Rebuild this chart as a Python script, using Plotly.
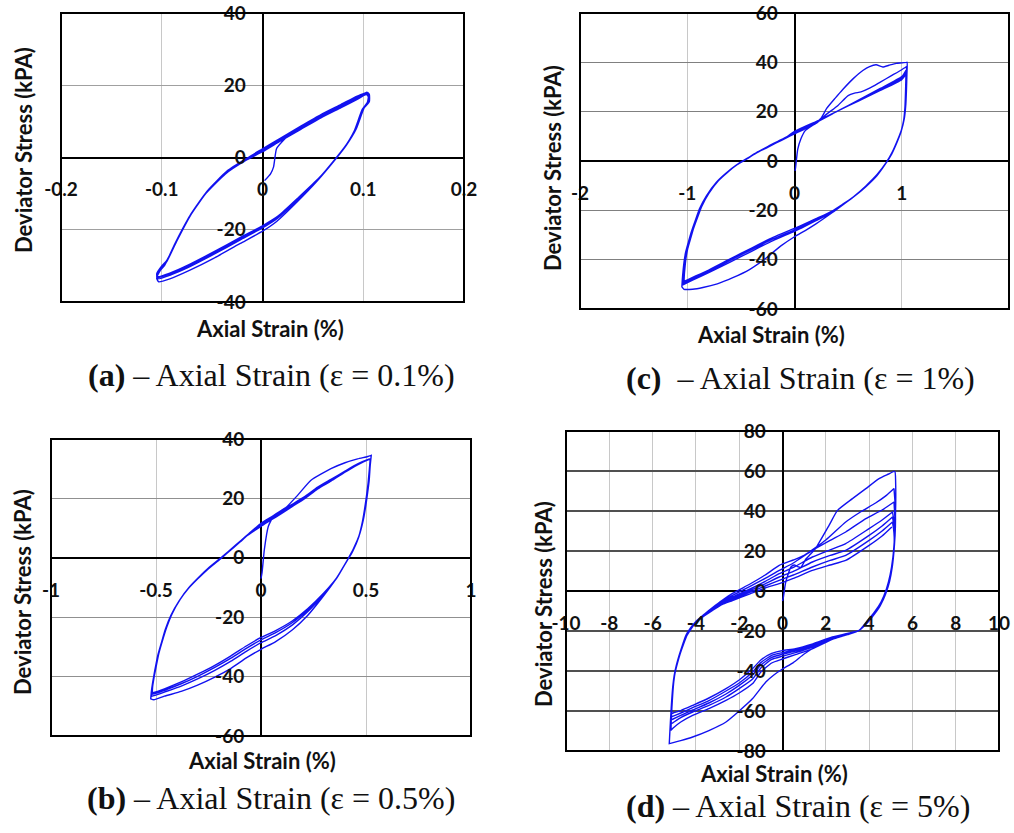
import plotly.graph_objects as go

# ---------------- DATA ----------------
# Each panel: list of branches (initial loading, then unloading / reloading), strain in %, stress in kPa

A_STRAIN = [
    [0.002, 0.008, 0.011, 0.014, 0.024, 0.031, 0.038, 0.058, 0.078, 0.094, 0.103, 0.105],
    [0.104, 0.099, 0.091, 0.081, 0.071, 0.054, 0.034, 0.014, 0.0, -0.022, -0.049, -0.072, -0.092, -0.103],
    [-0.105, -0.102, -0.097, -0.087, -0.073, -0.057, -0.037, -0.017, 0.0, 0.018, 0.038, 0.058, 0.078, 0.094, 0.103, 0.106],
    [0.105, 0.1, 0.092, 0.082, 0.072, 0.055, 0.035, 0.015, 0.0, -0.022, -0.049, -0.072, -0.092, -0.104],
    [-0.105, -0.101, -0.096, -0.086, -0.072, -0.056, -0.036, -0.016, 0.0, 0.018, 0.038, 0.058, 0.078, 0.094, 0.103, 0.106],
    [0.106, 0.101, 0.093, 0.083, 0.073, 0.056, 0.036, 0.016, 0.0, -0.022, -0.049, -0.072, -0.092, -0.104],
    [-0.105, -0.1, -0.095, -0.085, -0.071, -0.055, -0.035, -0.015, 0.0, 0.018, 0.038, 0.058, 0.078, 0.094, 0.104, 0.106],
    [0.106, 0.101, 0.093, 0.083, 0.073, 0.056, 0.036, 0.016, 0.0, -0.022, -0.049, -0.072, -0.092, -0.104],
    [-0.105, -0.1, -0.095, -0.085, -0.071, -0.055, -0.035, -0.015, 0.0, 0.018, 0.038, 0.058, 0.078, 0.094, 0.104],
]
A_STRESS = [
    [-6.4, -4.5, -2.6, 2.5, 5.7, 7.5, 8.2, 11.2, 13.9, 16.2, 17.4, 16.8],
    [15.2, 13.3, 7.3, 2.6, -1.0, -6.6, -12.4, -17.7, -20.4, -23.8, -28.0, -31.2, -33.6, -34.4],
    [-33.5, -31.5, -29.8, -23.9, -16.6, -10.2, -4.6, -0.9, 1.6, 4.6, 7.8, 11.0, 13.8, 16.1, 17.5, 17.0],
    [15.0, 13.5, 7.6, 3.0, -0.6, -6.2, -11.7, -16.8, -19.5, -22.8, -26.9, -30.2, -32.6, -33.6],
    [-32.8, -30.8, -29.2, -23.4, -16.1, -9.8, -4.2, -0.5, 2.0, 5.0, 8.2, 11.4, 14.2, 16.5, 17.8, 17.2],
    [15.4, 13.8, 7.9, 3.3, -0.3, -5.9, -11.3, -16.4, -19.1, -22.4, -26.5, -29.8, -32.2, -33.2],
    [-32.4, -30.3, -28.8, -23.1, -15.8, -9.5, -3.9, -0.3, 2.2, 5.2, 8.5, 11.7, 14.5, 16.8, 18.0, 17.5],
    [15.6, 14.0, 8.1, 3.5, -0.1, -5.7, -11.0, -16.1, -18.9, -22.1, -26.2, -29.5, -32.0, -33.0],
    [-32.2, -30.0, -28.5, -22.9, -15.6, -9.3, -3.7, -0.1, 2.4, 5.4, 8.7, 11.9, 14.7, 17.0, 18.1],
]

B_STRAIN = [
    [0.0, 0.005, 0.016, 0.035, 0.063, 0.12, 0.175, 0.238, 0.333, 0.4, 0.46, 0.508, 0.525],
    [0.525, 0.52, 0.515, 0.508, 0.5, 0.488, 0.47, 0.44, 0.413, 0.36, 0.3, 0.222, 0.15, 0.07, 0.0, -0.07, -0.143, -0.22, -0.302, -0.38, -0.46, -0.51, -0.525],
    [-0.525, -0.522, -0.516, -0.506, -0.492, -0.476, -0.455, -0.429, -0.39, -0.349, -0.3, -0.254, -0.2, -0.159, -0.1, -0.063, 0.0, 0.05, 0.095, 0.15, 0.206, 0.27, 0.333, 0.4, 0.46, 0.51, 0.522],
    [0.522, 0.518, 0.512, 0.505, 0.497, 0.485, 0.468, 0.438, 0.411, 0.36, 0.3, 0.222, 0.15, 0.07, 0.0, -0.07, -0.143, -0.22, -0.302, -0.38, -0.46, -0.51, -0.522],
    [-0.522, -0.52, -0.514, -0.504, -0.49, -0.474, -0.453, -0.427, -0.388, -0.347, -0.298, -0.252, -0.198, -0.157, -0.098, -0.061, 0.0, 0.05, 0.095, 0.15, 0.206, 0.27, 0.333, 0.4, 0.46, 0.51, 0.52],
    [0.52, 0.516, 0.51, 0.503, 0.495, 0.483, 0.466, 0.436, 0.409, 0.36, 0.3, 0.222, 0.15, 0.07, 0.0, -0.07, -0.143, -0.22, -0.302, -0.38, -0.46, -0.505, -0.52],
    [-0.52, -0.518, -0.512, -0.502, -0.488, -0.472, -0.451, -0.425, -0.386, -0.345, -0.296, -0.25, -0.196, -0.155, -0.096, -0.059, 0.0, 0.05, 0.095, 0.15, 0.206, 0.27, 0.333, 0.4, 0.46, 0.51, 0.52],
    [0.52, 0.516, 0.51, 0.503, 0.495, 0.483, 0.466, 0.436, 0.409, 0.36, 0.3, 0.222, 0.15, 0.07, 0.0, -0.07, -0.143, -0.22, -0.302, -0.38, -0.46, -0.505, -0.518],
    [-0.518, -0.516, -0.51, -0.5, -0.486, -0.47, -0.449, -0.423, -0.384, -0.343, -0.294, -0.248, -0.194, -0.153, -0.094, -0.057, 0.0, 0.05, 0.095, 0.15, 0.206, 0.27, 0.333, 0.4, 0.46, 0.51, 0.52],
]
B_STRESS = [
    [-7.0, -5.0, 2.8, 10.6, 14.4, 17.0, 21.1, 26.1, 30.0, 32.0, 33.3, 34.1, 34.5],
    [34.5, 31.0, 26.0, 22.0, 18.0, 13.0, 8.0, 3.0, -0.5, -6.8, -12.6, -19.4, -24.2, -28.2, -30.8, -33.7, -37.2, -40.2, -42.9, -45.0, -46.6, -47.8, -47.5],
    [-47.5, -45.0, -42.0, -38.0, -33.0, -29.0, -24.0, -19.4, -14.5, -10.6, -7.0, -3.9, -0.8, 1.7, 5.3, 7.6, 10.6, 12.8, 14.8, 17.3, 19.8, 23.2, 25.8, 28.8, 31.3, 33.1, 33.4],
    [33.4, 30.0, 25.5, 21.5, 17.5, 12.5, 7.6, 2.6, -0.8, -6.8, -12.2, -18.2, -22.6, -26.2, -28.6, -31.5, -34.8, -37.9, -40.8, -43.2, -45.2, -46.4, -46.6],
    [-46.6, -44.3, -41.5, -37.6, -32.7, -28.7, -23.8, -19.2, -14.3, -10.4, -6.8, -3.7, -0.6, 1.9, 5.5, 7.8, 11.0, 13.2, 15.2, 17.6, 20.1, 23.4, 26.0, 28.9, 31.3, 33.0, 33.2],
    [33.2, 29.8, 25.2, 21.2, 17.2, 12.2, 7.3, 2.3, -1.0, -6.9, -12.0, -17.6, -21.8, -25.2, -27.6, -30.5, -33.8, -36.9, -39.9, -42.4, -44.6, -45.7, -46.0],
    [-46.0, -43.8, -41.0, -37.2, -32.4, -28.4, -23.6, -19.0, -14.1, -10.2, -6.6, -3.5, -0.4, 2.1, 5.7, 8.0, 11.3, 13.5, 15.5, 17.9, 20.3, 23.6, 26.2, 29.0, 31.4, 33.0, 33.2],
    [33.2, 29.7, 25.0, 21.0, 17.0, 12.0, 7.1, 2.1, -1.1, -6.8, -11.8, -17.2, -21.2, -24.5, -26.8, -29.7, -33.0, -36.2, -39.2, -41.8, -44.1, -45.2, -45.5],
    [-45.5, -43.4, -40.6, -36.9, -32.1, -28.1, -23.4, -18.8, -13.9, -10.0, -6.4, -3.3, -0.2, 2.3, 5.9, 8.2, 11.6, 13.8, 15.8, 18.1, 20.5, 23.8, 26.4, 29.2, 31.6, 33.1, 33.3],
]

C_STRAIN = [
    [0.005, 0.01, 0.03, 0.06, 0.1, 0.18, 0.25, 0.3, 0.38, 0.45, 0.55, 0.637, 0.7, 0.761, 0.823, 0.88, 0.947, 1.0, 1.045],
    [1.05, 1.048, 1.044, 1.038, 1.025, 1.0, 0.963, 0.91, 0.854, 0.77, 0.668, 0.55, 0.45, 0.35, 0.2, 0.1, 0.0, -0.13, -0.264, -0.42, -0.575, -0.72, -0.854, -0.95, -1.03, -1.05],
    [-1.05, -1.046, -1.04, -1.03, -1.015, -0.99, -0.96, -0.92, -0.885, -0.82, -0.73, -0.64, -0.543, -0.45, -0.357, -0.25, -0.171, -0.08, 0.0, 0.1, 0.2, 0.3, 0.4, 0.5, 0.56, 0.62, 0.7, 0.8, 0.9, 1.0, 1.045],
    [1.045, 1.043, 1.04, 1.035, 1.022, 0.998, 0.96, 0.908, 0.852, 0.77, 0.668, 0.55, 0.45, 0.35, 0.2, 0.1, 0.0, -0.2, -0.4, -0.6, -0.8, -0.95, -1.04],
    [-1.04, -1.036, -1.03, -1.02, -1.005, -0.98, -0.95, -0.91, -0.875, -0.81, -0.72, -0.63, -0.535, -0.44, -0.35, -0.245, -0.165, -0.075, 0.0, 0.2, 0.4, 0.6, 0.8, 1.0, 1.04],
    [1.04, 1.038, 1.035, 1.03, 1.018, 0.995, 0.958, 0.906, 0.85, 0.77, 0.668, 0.55, 0.45, 0.35, 0.2, 0.1, 0.0, -0.2, -0.4, -0.6, -0.8, -0.95, -1.035],
    [-1.035, -1.032, -1.026, -1.016, -1.0, -0.975, -0.945, -0.905, -0.87, -0.805, -0.715, -0.625, -0.53, -0.435, -0.345, -0.24, -0.16, -0.07, 0.0, 0.2, 0.4, 0.6, 0.8, 1.0, 1.04],
    [1.04, 1.038, 1.035, 1.03, 1.018, 0.995, 0.958, 0.906, 0.85, 0.77, 0.668, 0.55, 0.45, 0.35, 0.2, 0.1, 0.0, -0.2, -0.4, -0.6, -0.8, -0.95, -1.03],
    [-1.03, -1.027, -1.021, -1.011, -0.995, -0.97, -0.94, -0.9, -0.865, -0.8, -0.71, -0.62, -0.525, -0.43, -0.34, -0.235, -0.155, -0.065, 0.0, 0.2, 0.4, 0.6, 0.8, 1.0, 1.04],
]
C_STRESS = [
    [-4.0, -2.7, 4.7, 9.0, 12.3, 14.8, 17.5, 21.3, 25.5, 29.0, 33.5, 36.7, 38.3, 39.0, 38.1, 38.8, 39.6, 39.8, 40.0],
    [40.0, 35.0, 29.0, 23.0, 17.5, 13.0, 8.7, 3.5, -0.7, -5.5, -10.0, -14.5, -17.8, -21.0, -25.5, -28.2, -30.7, -34.5, -39.3, -44.0, -47.3, -49.8, -51.3, -52.0, -52.0, -51.0],
    [-51.0, -48.0, -45.0, -41.0, -37.0, -33.0, -28.5, -23.5, -19.3, -14.0, -8.7, -5.0, -1.7, 0.8, 3.2, 5.5, 7.3, 9.3, 11.0, 13.0, 15.2, 19.0, 22.3, 26.5, 27.5, 28.0, 29.5, 32.0, 34.5, 37.0, 38.3],
    [38.3, 33.5, 28.5, 22.5, 17.0, 12.6, 8.3, 3.2, -0.9, -5.7, -10.2, -14.6, -17.8, -20.8, -24.2, -26.4, -28.5, -32.3, -36.6, -41.0, -45.3, -48.3, -50.2],
    [-50.2, -47.2, -44.2, -40.2, -36.2, -32.2, -27.8, -22.9, -18.8, -13.6, -8.4, -4.8, -1.5, 1.0, 3.4, 5.8, 7.6, 9.6, 11.4, 15.6, 20.2, 24.8, 29.4, 34.2, 36.8],
    [36.8, 32.5, 27.8, 22.0, 16.6, 12.3, 8.0, 3.0, -1.0, -5.8, -10.3, -14.6, -17.7, -20.6, -23.8, -25.9, -27.9, -31.6, -35.9, -40.3, -44.7, -47.7, -49.5],
    [-49.5, -46.6, -43.6, -39.7, -35.8, -31.9, -27.5, -22.6, -18.6, -13.4, -8.2, -4.6, -1.3, 1.2, 3.6, 6.0, 7.8, 9.8, 11.7, 15.8, 20.2, 24.6, 29.0, 33.6, 36.0],
    [36.0, 31.8, 27.3, 21.6, 16.3, 12.0, 7.8, 2.8, -1.1, -5.9, -10.3, -14.5, -17.5, -20.3, -23.4, -25.4, -27.3, -31.0, -35.3, -39.7, -44.2, -47.2, -48.8],
    [-48.8, -46.0, -43.0, -39.2, -35.4, -31.6, -27.2, -22.4, -18.4, -13.2, -8.0, -4.4, -1.1, 1.4, 3.8, 6.2, 8.0, 10.0, 12.0, 16.0, 20.2, 24.4, 28.6, 33.0, 35.2],
]

D_STRAIN = [
    [0.0, 0.03, 0.15, 0.39, 0.55, 0.7, 0.85, 0.95, 1.08, 1.3, 1.54, 2.15, 2.54, 3.23, 3.85, 4.46, 4.9, 5.15],
    [5.2, 5.23, 5.23, 5.21, 5.17, 5.1, 4.97, 4.8, 4.55, 4.25, 3.95, 3.54, 3.0, 2.3, 1.6, 1.0, 0.5, 0.0, -0.4, -0.77, -1.38, -2.0, -2.61, -3.4, -4.15, -4.7, -5.05, -5.23],
    [-5.23, -5.2, -5.16, -5.12, -5.07, -5.0, -4.9, -4.77, -4.62, -4.46, -4.25, -4.0, -3.6, -3.23, -2.8, -2.31, -1.5, -0.8, -0.15, 0.5, 1.0, 2.0, 2.92, 3.6, 4.3, 4.8, 5.15],
    [5.15, 5.2, 5.22, 5.2, 5.15, 5.07, 4.95, 4.78, 4.55, 4.25, 3.95, 3.54, 3.0, 2.3, 1.4, 0.6, 0.0, -0.5, -1.0, -1.38, -2.0, -2.61, -3.4, -4.15, -4.7, -5.05, -5.15],
    [-5.15, -5.14, -5.12, -5.09, -5.05, -4.98, -4.88, -4.76, -4.61, -4.45, -4.25, -4.0, -3.6, -3.23, -2.8, -2.31, -1.5, -0.8, -0.15, 0.5, 1.38, 2.2, 2.92, 3.85, 4.6, 5.15],
    [5.15, 5.18, 5.2, 5.18, 5.13, 5.05, 4.93, 4.77, 4.54, 4.25, 3.95, 3.54, 3.0, 2.3, 1.4, 0.6, 0.0, -0.5, -1.0, -1.38, -2.0, -2.61, -3.4, -4.15, -4.7, -5.05, -5.15],
    [-5.15, -5.14, -5.12, -5.09, -5.05, -4.98, -4.88, -4.76, -4.61, -4.45, -4.25, -4.0, -3.6, -3.23, -2.8, -2.31, -1.5, -0.8, -0.15, 0.5, 1.38, 2.2, 2.92, 4.0, 4.6, 5.08],
    [5.08, 5.15, 5.18, 5.17, 5.12, 5.04, 4.92, 4.76, 4.53, 4.25, 3.95, 3.54, 3.0, 2.3, 1.4, 0.6, 0.0, -0.5, -1.0, -1.38, -2.0, -2.61, -3.4, -4.15, -4.7, -5.05, -5.14],
    [-5.14, -5.13, -5.11, -5.08, -5.04, -4.97, -4.87, -4.75, -4.6, -4.44, -4.24, -4.0, -3.6, -3.23, -2.8, -2.31, -1.5, -0.8, -0.15, 0.5, 1.38, 2.2, 2.92, 4.0, 4.6, 5.08],
    [5.08, 5.14, 5.17, 5.16, 5.11, 5.03, 4.91, 4.75, 4.52, 4.24, 3.94, 3.54, 3.0, 2.3, 1.4, 0.6, 0.0, -0.5, -1.0, -1.38, -2.0, -2.61, -3.4, -4.15, -4.7, -5.05, -5.13],
    [-5.13, -5.12, -5.1, -5.07, -5.03, -4.96, -4.86, -4.74, -4.59, -4.43, -4.23, -4.0, -3.6, -3.23, -2.8, -2.31, -1.5, -0.8, -0.15, 0.5, 1.38, 2.2, 2.92, 4.0, 4.6, 5.08],
    [5.08, 5.13, 5.16, 5.15, 5.1, 5.02, 4.9, 4.74, 4.51, 4.23, 3.93, 3.54, 3.0, 2.3, 1.4, 0.6, 0.0, -0.5, -1.0, -1.38, -2.0, -2.61, -3.4, -4.15, -4.7, -5.05, -5.12],
    [-5.12, -5.11, -5.09, -5.06, -5.02, -4.95, -4.85, -4.73, -4.58, -4.42, -4.22, -4.0, -3.6, -3.23, -2.8, -2.31, -1.5, -0.8, -0.15, 0.5, 1.38, 2.2, 2.92, 4.0, 4.6, 5.05],
]
D_STRESS = [
    [-5.0, -3.8, 4.5, 12.0, 13.0, 12.2, 11.8, 13.5, 16.0, 18.5, 21.5, 32.8, 40.3, 46.2, 51.2, 56.2, 58.5, 59.8],
    [59.5, 52.0, 44.0, 35.0, 26.0, 17.0, 8.0, 1.0, -5.5, -10.5, -14.5, -19.7, -21.8, -24.2, -27.5, -31.5, -35.8, -39.0, -42.0, -45.5, -53.8, -60.0, -65.5, -69.8, -73.0, -74.8, -75.8, -76.3],
    [-76.3, -70.0, -62.0, -55.0, -48.0, -42.0, -37.0, -32.0, -27.0, -22.2, -18.5, -15.2, -11.5, -8.3, -4.8, -1.2, 3.5, 8.0, 12.8, 15.5, 17.8, 25.5, 34.5, 39.5, 44.0, 47.8, 51.2],
    [51.2, 44.0, 36.0, 28.0, 20.0, 12.0, 5.0, -1.0, -6.5, -11.0, -15.0, -19.7, -21.8, -24.2, -28.8, -31.8, -34.0, -36.0, -40.5, -46.3, -51.0, -54.7, -58.8, -62.2, -65.5, -68.5, -69.7],
    [-69.7, -65.0, -60.0, -54.0, -48.0, -42.0, -37.0, -32.0, -27.0, -22.3, -18.6, -15.3, -11.6, -8.5, -5.2, -2.2, 2.3, 6.3, 10.3, 14.0, 20.3, 25.3, 29.5, 36.2, 40.5, 44.5],
    [44.5, 39.0, 33.0, 26.0, 19.0, 11.5, 4.6, -1.3, -6.8, -11.2, -15.2, -19.7, -21.6, -23.8, -28.0, -30.8, -32.6, -34.2, -38.5, -44.0, -48.8, -53.0, -57.2, -60.5, -63.3, -65.8, -66.5],
    [-66.5, -62.0, -57.5, -52.0, -46.5, -41.0, -36.5, -31.8, -26.9, -22.3, -18.7, -15.4, -11.8, -8.8, -5.6, -3.0, 1.0, 4.8, 8.7, 11.8, 17.0, 20.6, 23.7, 31.2, 35.5, 39.5],
    [39.5, 35.0, 30.0, 24.0, 17.5, 10.5, 4.0, -1.6, -7.0, -11.4, -15.4, -19.7, -21.5, -23.5, -27.4, -30.0, -31.6, -33.2, -37.0, -42.0, -47.2, -51.5, -56.0, -59.5, -62.2, -64.0, -64.5],
    [-64.5, -60.5, -56.5, -51.3, -46.0, -40.7, -36.3, -31.7, -26.9, -22.3, -18.7, -15.5, -12.0, -9.1, -6.0, -3.6, 0.2, 3.6, 7.0, 9.8, 14.5, 17.8, 20.3, 27.8, 32.5, 37.0],
    [37.0, 33.0, 28.5, 23.0, 17.0, 10.0, 3.6, -1.8, -7.2, -11.6, -15.6, -19.7, -21.3, -23.2, -26.9, -29.4, -30.8, -32.2, -35.8, -40.5, -46.0, -50.0, -54.8, -58.3, -61.0, -62.6, -63.0],
    [-63.0, -59.5, -55.7, -50.6, -45.6, -40.4, -36.1, -31.6, -26.9, -22.3, -18.8, -15.6, -12.2, -9.4, -6.4, -4.2, -0.6, 2.5, 5.3, 8.0, 12.0, 15.3, 17.8, 25.3, 30.0, 34.5],
    [34.5, 31.0, 27.0, 22.0, 16.5, 9.6, 3.2, -2.0, -7.4, -11.8, -15.8, -19.7, -21.2, -23.0, -26.4, -28.8, -29.8, -31.2, -34.5, -38.8, -44.5, -48.8, -53.5, -57.2, -59.8, -61.0, -61.3],
    [-61.3, -58.5, -55.0, -50.0, -45.2, -40.2, -36.0, -31.5, -26.9, -22.4, -18.9, -15.7, -12.4, -9.7, -6.8, -4.8, -1.4, 1.5, 3.7, 6.3, 10.3, 13.0, 15.3, 22.8, 27.5, 32.0],
]

# axis ranges and ticks
A_X_RANGE, A_Y_RANGE = [-0.2, 0.2], [-40, 40]
A_X_TICKS, A_X_LABELS = [-0.2, -0.1, 0, 0.1, 0.2], ["-0.2", "-0.1", "0", "0.1", "0.2"]
A_Y_TICKS, A_Y_LABELS = [-40, -20, 0, 20, 40], ["-40", "-20", "0", "20", "40"]

B_X_RANGE, B_Y_RANGE = [-1, 1], [-60, 40]
B_X_TICKS, B_X_LABELS = [-1, -0.5, 0, 0.5, 1], ["-1", "-0.5", "0", "0.5", "1"]
B_Y_TICKS, B_Y_LABELS = [-60, -40, -20, 0, 20, 40], ["-60", "-40", "-20", "0", "20", "40"]

C_X_RANGE, C_Y_RANGE = [-2, 2], [-60, 60]
C_X_TICKS, C_X_LABELS = [-2, -1, 0, 1, 2], ["-2", "-1", "0", "1", "2"]
C_Y_TICKS, C_Y_LABELS = [-60, -40, -20, 0, 20, 40, 60], ["-60", "-40", "-20", "0", "20", "40", "60"]

D_X_RANGE, D_Y_RANGE = [-10, 10], [-80, 80]
D_X_TICKS = [-10, -8, -6, -4, -2, 0, 2, 4, 6, 8, 10]
D_X_LABELS = ["-10", "-8", "-6", "-4", "-2", "0", "2", "4", "6", "8", "10"]
D_Y_TICKS = [-80, -60, -40, -20, 0, 20, 40, 60, 80]
D_Y_LABELS = ["-80", "-60", "-40", "-20", "0", "20", "40", "60", "80"]

X_TITLE = "Axial Strain (%)"
Y_TITLE = "Deviator Stress (kPA)"
CAPTIONS = {
    "a": "<b>(a)</b> \u2013 Axial Strain (\u03b5 = 0.1%)",
    "b": "<b>(b)</b> \u2013 Axial Strain (\u03b5 = 0.5%)",
    "c": "<b>(c)</b>\u00a0 \u2013 Axial Strain (\u03b5 = 1%)",
    "d": "<b>(d)</b> \u2013 Axial Strain (\u03b5 = 5%)",
}

# ---------------- LAYOUT (pixel geometry of the page) ----------------
W, H = 1014, 833
LINE_BLUE = "rgb(18,18,240)"
TICK_FONT = dict(family="Lato, Open Sans, sans-serif", size=19, color="#111", weight="bold")
TITLE_FONT = dict(family="Lato, Open Sans, sans-serif", size=22, color="#111", weight="bold")
CAP_FONT = dict(family="Liberation Serif, Times New Roman, serif", size=32, color="#111")

PANELS = [
    dict(key="a", ax="", sx=A_STRAIN, sy=A_STRESS, xr=A_X_RANGE, yr=A_Y_RANGE,
         xt=A_X_TICKS, xl=A_X_LABELS, yt=A_Y_TICKS, yl=A_Y_LABELS,
         box=(61, 13, 464, 302), hgrid="#a0a0a0", hw=1.2,
         ytitle=(23, 150), xtitle=(270, 329), cap=(271, 375)),
    dict(key="c", ax="2", sx=C_STRAIN, sy=C_STRESS, xr=C_X_RANGE, yr=C_Y_RANGE,
         xt=C_X_TICKS, xl=C_X_LABELS, yt=C_Y_TICKS, yl=C_Y_LABELS,
         box=(580, 13, 1009, 309), hgrid="#808080", hw=1.4,
         ytitle=(553, 168), xtitle=(771, 334), cap=(800, 378)),
    dict(key="b", ax="3", sx=B_STRAIN, sy=B_STRESS, xr=B_X_RANGE, yr=B_Y_RANGE,
         xt=B_X_TICKS, xl=B_X_LABELS, yt=B_Y_TICKS, yl=B_Y_LABELS,
         box=(51, 439, 471, 736), hgrid="#909090", hw=1.2,
         ytitle=(22, 592), xtitle=(262, 760), cap=(271, 798)),
    dict(key="d", ax="4", sx=D_STRAIN, sy=D_STRESS, xr=D_X_RANGE, yr=D_Y_RANGE,
         xt=D_X_TICKS, xl=D_X_LABELS, yt=D_Y_TICKS, yl=D_Y_LABELS,
         box=(566, 431, 999, 751), hgrid="#505050", hw=1.6,
         ytitle=(543, 604), xtitle=(774, 773), cap=(798, 806)),
]

fig = go.Figure()
layout = dict(width=W, height=H, margin=dict(l=0, r=0, t=0, b=0, pad=0, autoexpand=False),
              paper_bgcolor="white", plot_bgcolor="white", showlegend=False)
annotations, shapes = [], []

for p in PANELS:
    x0, y0, x1, y1 = p["box"]
    xdom = [x0 / W, x1 / W]
    ydom = [1 - y1 / H, 1 - y0 / H]
    # paper position of the zero lines (axes cross at 0, Excel style)
    zx = xdom[0] + (0 - p["xr"][0]) / (p["xr"][1] - p["xr"][0]) * (xdom[1] - xdom[0])
    zy = ydom[0] + (0 - p["yr"][0]) / (p["yr"][1] - p["yr"][0]) * (ydom[1] - ydom[0])

    xs, ys = [], []
    for bx, by in zip(p["sx"], p["sy"]):
        for a, b in zip(bx, by):
            xs.append(a)
            ys.append(b)
    fig.add_trace(go.Scatter(x=xs, y=ys, mode="lines", xaxis="x" + p["ax"], yaxis="y" + p["ax"],
                             line=dict(color=LINE_BLUE, width=1.4, shape="spline", smoothing=0.5),
                             hoverinfo="skip"))

    layout["xaxis" + p["ax"]] = dict(
        domain=xdom, range=p["xr"], anchor="free", position=zy, automargin=False,
        tickmode="array", tickvals=p["xt"], ticktext=p["xl"],
        showgrid=True, gridcolor="#c8c8c8", gridwidth=1.2,
        zeroline=True, zerolinecolor="black", zerolinewidth=1.8,
        showline=False, ticks="outside", ticklen=15, tickcolor="rgba(0,0,0,0)",
        tickfont=TICK_FONT, fixedrange=True)
    layout["yaxis" + p["ax"]] = dict(
        domain=ydom, range=p["yr"], anchor="free", position=zx, automargin=False,
        tickmode="array", tickvals=p["yt"], ticktext=p["yl"],
        showgrid=True, gridcolor=p["hgrid"], gridwidth=p["hw"],
        zeroline=True, zerolinecolor="black", zerolinewidth=1.8,
        showline=False, ticks="outside", ticklen=13, tickcolor="rgba(0,0,0,0)",
        tickfont=TICK_FONT, fixedrange=True)

    ref = "x" + p["ax"]
    shapes.append(dict(type="rect", xref=ref + " domain", yref="y" + p["ax"] + " domain",
                       x0=0, x1=1, y0=0, y1=1, line=dict(color="black", width=2), layer="above"))

    tx, ty = p["ytitle"]
    annotations.append(dict(text=Y_TITLE, x=tx / W, y=1 - ty / H, xref="paper", yref="paper",
                            textangle=-90, showarrow=False, font=TITLE_FONT,
                            xanchor="center", yanchor="middle"))
    tx, ty = p["xtitle"]
    annotations.append(dict(text=X_TITLE, x=tx / W, y=1 - ty / H, xref="paper", yref="paper",
                            showarrow=False, font=TITLE_FONT, xanchor="center", yanchor="middle"))
    tx, ty = p["cap"]
    annotations.append(dict(text=CAPTIONS[p["key"]], x=tx / W, y=1 - ty / H, xref="paper", yref="paper",
                            showarrow=False, font=CAP_FONT, xanchor="center", yanchor="middle"))

layout["annotations"] = annotations
layout["shapes"] = shapes
fig.update_layout(**layout)

fig.write_html("out.html", config={"displayModeBar": False},
               post_script="document.body.style.margin='0px';document.body.style.overflow='hidden';")
